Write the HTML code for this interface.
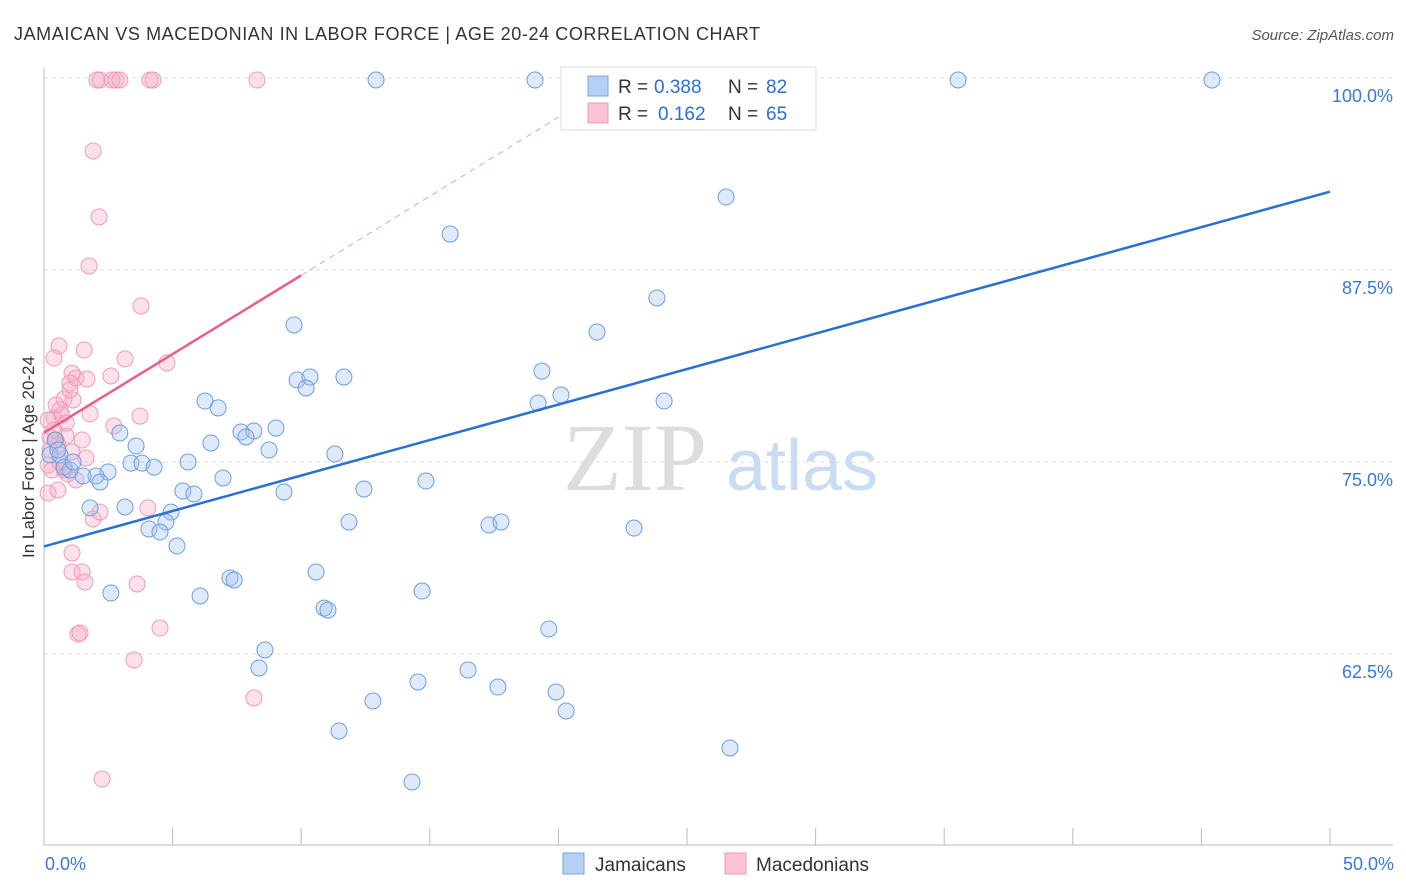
<!DOCTYPE html>
<html><head><meta charset="utf-8"><style>
body{margin:0;background:#fff;font-family:"Liberation Sans",sans-serif;}
svg{display:block}
</style></head><body>
<svg id="chart" width="1406" height="892">
<text x="14" y="40" font-size="18" fill="#333" textLength="746">JAMAICAN VS MACEDONIAN IN LABOR FORCE | AGE 20-24 CORRELATION CHART</text>
<text x="1394" y="40" font-size="15" fill="#555" text-anchor="end" font-style="italic">Source: ZipAtlas.com</text>
<text x="34" y="457" font-size="17" fill="#333" text-anchor="middle" transform="rotate(-90 34 457)">In Labor Force | Age 20-24</text>
<g><text x="635" y="490" font-size="96" fill="#ddd" font-family="Liberation Serif,serif" text-anchor="middle">ZIP</text><text x="802" y="490" font-size="72" fill="#c9dcf2" text-anchor="middle">atlas</text></g>
<g id="grid"></g><g id="marks"></g>
<g>
<rect x="561" y="67" width="255" height="63" fill="#fff" stroke="#ddd"/>
<rect x="588" y="76" width="20" height="20" fill="#b5d0f2" stroke="#7aa6de"/>
<rect x="588" y="103" width="20" height="20" fill="#f9c3d3" stroke="#ee9ab4"/>
<text x="618" y="93" font-size="19" fill="#333">R =</text><text x="654" y="93" font-size="19" fill="#2a6fd6">0.388</text>
<text x="728" y="93" font-size="19" fill="#333">N =</text><text x="766" y="93" font-size="19" fill="#2a6fd6">82</text>
<text x="618" y="120" font-size="19" fill="#333">R =</text><text x="658" y="120" font-size="19" fill="#2a6fd6">0.162</text>
<text x="728" y="120" font-size="19" fill="#333">N =</text><text x="766" y="120" font-size="19" fill="#2a6fd6">65</text>
</g>
<g>
<rect x="563" y="853" width="21" height="21" fill="#b5d0f2" stroke="#7aa6de"/>
<text x="595" y="871" font-size="19" fill="#333">Jamaicans</text>
<rect x="725" y="853" width="21" height="21" fill="#f9c3d3" stroke="#ee9ab4"/>
<text x="756" y="871" font-size="19" fill="#333">Macedonians</text>
</g>
</svg>
<script>
const yTicks=[100,87.5,75,62.5];
const yTickLabels=["100.0%","87.5%","75.0%","62.5%"];
const xTickLabels=["0.0%","50.0%"];
const bluePx=[[376,80],[535,80],[745,80],[780,80],[958,80],[1212,80],[726,197],[450,234],[657,298],[597,332],[294,325],[542,371],[297,380],[310,377],[306,388],[344,377],[561,395],[538,403],[664,401],[205,401],[218,408],[120,433],[136,446],[211,443],[241,432],[254,431],[246,437],[276,428],[269,450],[335,454],[188,462],[131,463],[142,463],[154,467],[108,472],[96,476],[100,482],[83,476],[223,478],[426,481],[364,489],[284,492],[183,491],[194,494],[125,507],[90,508],[171,512],[166,522],[149,529],[160,532],[349,522],[489,525],[501,522],[634,528],[177,546],[316,572],[230,578],[234,580],[111,593],[200,596],[422,591],[324,608],[328,610],[549,629],[265,650],[259,668],[468,670],[418,682],[498,687],[556,692],[373,701],[566,711],[339,731],[730,748],[412,782],[50,455],[55,440],[60,455],[64,467],[70,470],[58,450],[73,462]];
const pinkPx=[[97,80],[100,80],[112,80],[116,80],[120,80],[150,80],[153,80],[257,80],[93,151],[99,217],[89,266],[141,306],[59,346],[84,350],[54,358],[125,359],[167,363],[72,373],[76,378],[87,379],[111,376],[70,383],[64,399],[73,400],[60,410],[90,414],[140,416],[114,426],[54,418],[48,420],[66,436],[56,440],[82,440],[50,450],[72,452],[86,458],[48,465],[64,470],[68,474],[76,480],[48,493],[58,490],[93,519],[100,512],[148,508],[72,553],[72,572],[82,572],[85,582],[137,584],[78,634],[80,633],[160,628],[134,660],[254,698],[102,779],[54,430],[50,437],[62,415],[66,423],[58,445],[52,470],[70,390],[56,405],[60,462]];
const toX=p=>(p-44)/25.72, toY=p=>100-(p-78)/15.36;
const blueX=bluePx.map(p=>+toX(p[0]).toFixed(2)), blueY=bluePx.map(p=>+toY(p[1]).toFixed(2));
const pinkX=pinkPx.map(p=>+toX(p[0]).toFixed(2)), pinkY=pinkPx.map(p=>+toY(p[1]).toFixed(2));
const blueTrend=[69.5,92.6];
const pinkTrend=[76.9,87.15,97.45];
const sx=v=>44+v*25.72, sy=v=>78+(100-v)*15.36;
const NS="http://www.w3.org/2000/svg";
const grid=document.getElementById('grid'), marks=document.getElementById('marks');
function el(tag,attrs,parent){const e=document.createElementNS(NS,tag);for(const k in attrs)e.setAttribute(k,attrs[k]);parent.appendChild(e);return e;}
yTicks.forEach((t,i)=>{
 const g=el('line',{x1:44,x2:1393,y1:sy(t),y2:sy(t),stroke:'#ddd','stroke-dasharray':'4,4'},grid);
 
 
 const tx=el('text',{x:1393,y:sy(t)+24,'font-size':18,fill:'#3a78d6','text-anchor':'end'},grid);
 tx.textContent=yTickLabels[i];
 
 
});
const ax=el('line',{x1:44,x2:1393,y1:845,y2:845,stroke:'#bbb'},grid);


const ay=el('line',{x1:44,x2:44,y1:68,y2:845,stroke:'#bbb'},grid);


for(let i=0;i<=10;i++){const t=el('line',{x1:sx(i*5),x2:sx(i*5),y1:828,y2:845,stroke:'#bbb'},grid);
 
 }
[[0,'start',45],[50,'end',1394]].forEach((d,i)=>{const t=el('text',{x:d[2],y:870,'font-size':18,fill:'#3a78d6','text-anchor':d[1]},grid);t.textContent=xTickLabels[i];
 
 });
pinkX.forEach((x,i)=>{const c=el('circle',{cx:sx(x),cy:sy(pinkY[i]),r:8,fill:'rgba(246,170,195,0.35)',stroke:'#ef9cb7','stroke-width':1},marks);
 
 });
blueX.forEach((x,i)=>{const c=el('circle',{cx:sx(x),cy:sy(blueY[i]),r:8,fill:'rgba(160,195,240,0.35)',stroke:'#6f9edc','stroke-width':1},marks);
 
 });
const bl=el('line',{x1:sx(0),y1:sy(blueTrend[0]),x2:sx(50),y2:sy(blueTrend[1]),stroke:'#2a6fd6','stroke-width':2.5},marks);


const pl=el('line',{x1:sx(0),y1:sy(pinkTrend[0]),x2:sx(10),y2:sy(pinkTrend[1]),stroke:'#e8608a','stroke-width':2.5},marks);


const pd=el('line',{x1:sx(10),y1:sy(pinkTrend[1]),x2:sx(20),y2:sy(pinkTrend[2]),stroke:'#eaa0b8','stroke-width':1,'stroke-dasharray':'6,5'},marks);


</script>
</body></html>
